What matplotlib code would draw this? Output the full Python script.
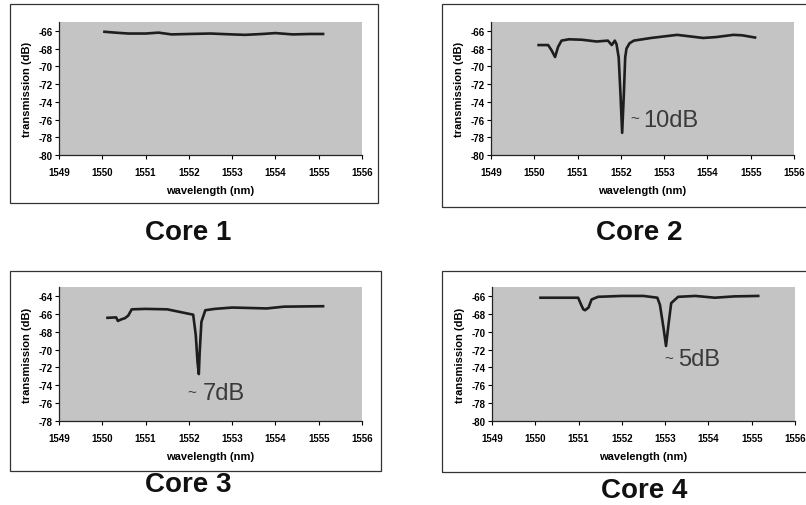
import matplotlib
matplotlib.use("Agg")
import matplotlib.pyplot as plt
from matplotlib.patches import Rectangle
import numpy as np

plt.rcParams['font.family'] = ['Liberation Sans', 'DejaVu Sans']

# Core 1 - flat transmission
wl_core1 = [1550.05, 1550.3, 1550.6, 1551.0, 1551.3, 1551.6, 1552.0, 1552.5,
            1553.0, 1553.3, 1553.7, 1554.0, 1554.4, 1554.8, 1555.1]
tr_core1 = [-66.1, -66.2, -66.3, -66.3, -66.2, -66.4, -66.35, -66.3,
            -66.4, -66.45, -66.35, -66.25, -66.4, -66.35, -66.35]

# Core 2 - ~10 dB dip near 1552 nm
wl_core2 = [1550.1, 1550.32, 1550.4, 1550.48, 1550.55, 1550.63, 1550.8, 1551.1,
            1551.44, 1551.7, 1551.79, 1551.86, 1551.9, 1551.95, 1551.99, 1552.03,
            1552.07, 1552.1, 1552.13, 1552.2, 1552.3, 1552.7, 1553.3, 1553.9,
            1554.2, 1554.6, 1554.8, 1555.1]
tr_core2 = [-67.6, -67.6, -68.2, -68.95, -67.8, -67.1, -66.95, -67.0,
            -67.2, -67.1, -67.6, -67.1, -67.5, -69.0, -73.0, -77.5,
            -73.0, -69.0, -68.0, -67.4, -67.1, -66.8, -66.45, -66.8,
            -66.7, -66.45, -66.5, -66.75]

# Core 3 - ~7 dB dip near 1552.2 nm
wl_core3 = [1550.12, 1550.32, 1550.36, 1550.45, 1550.52, 1550.6, 1550.68, 1551.0,
            1551.5, 1552.1, 1552.16, 1552.2, 1552.23, 1552.25, 1552.29, 1552.38,
            1552.6, 1553.0, 1553.8, 1554.2, 1555.1]
tr_core3 = [-66.45, -66.4, -66.8, -66.6, -66.5, -66.2, -65.5, -65.45,
            -65.5, -66.1, -68.4, -71.4, -72.75, -70.3, -66.9, -65.6,
            -65.45, -65.3, -65.4, -65.2, -65.15]

# Core 4 - ~5 dB dip near 1553 nm
wl_core4 = [1550.12, 1550.6, 1550.99, 1551.07, 1551.11, 1551.15, 1551.23, 1551.3,
            1551.45, 1552.0, 1552.5, 1552.82, 1552.88, 1552.96, 1553.02, 1553.08,
            1553.14, 1553.3, 1553.7, 1554.15, 1554.6, 1555.15]
tr_core4 = [-66.2, -66.2, -66.2, -67.1, -67.5, -67.6, -67.3, -66.4,
            -66.1, -66.0, -66.0, -66.2, -67.0, -69.5, -71.6, -69.1,
            -66.8, -66.1, -66.0, -66.2, -66.05, -66.0]

titles = ["Core 1", "Core 2", "Core 3", "Core 4"]
notes = [None, "10dB", "7dB", "5dB"]
note_x = [None, 1552.51, 1552.33, 1553.30]
tilde_x = [None, 1552.22, 1551.96, 1552.98]
note_y = [None, -76.0, -74.9, -73.1]
ylims = [(-80, -65), (-80, -65), (-78, -63), (-80, -65)]
yticks = [np.arange(-80, -65, 2), np.arange(-80, -65, 2),
          np.arange(-78, -63, 2), np.arange(-80, -65, 2)]
xticks = np.arange(1549, 1557, 1)

W, H = 806, 506
fig = plt.figure(figsize=(W / 100, H / 100), dpi=100)

def px(x0, y0, x1, y1):
    # pixel box (top-left origin) -> figure fraction rect
    return [x0 / W, 1 - y1 / H, (x1 - x0) / W, (y1 - y0) / H]

axes_px = [(59, 23, 362, 156), (491, 23, 794, 156),
           (59, 288, 362, 422), (492, 288, 795, 422)]
frames_px = [(10, 5, 378, 204), (442, 5, 812, 208),
             (10, 272, 381, 472), (442, 272, 812, 473)]
title_px = [(188, 233), (639, 233), (188, 485), (644, 491)]

data = [(wl_core1, tr_core1), (wl_core2, tr_core2),
        (wl_core3, tr_core3), (wl_core4, tr_core4)]

for i in range(4):
    fx0, fy0, fx1, fy1 = frames_px[i]
    r = px(fx0, fy0, fx1, fy1)
    fig.add_artist(Rectangle((r[0], r[1]), r[2], r[3], transform=fig.transFigure,
                             fill=False, edgecolor='#333333', lw=0.9))

    ax = fig.add_axes(px(*axes_px[i]))
    ax.set_facecolor('#c4c4c4')
    wl, tr = data[i]
    ax.plot(wl, tr, color='#1e1e1e', lw=1.9, solid_joinstyle='round')
    ax.set_xlim(1549, 1556)
    ax.set_ylim(*ylims[i])
    ax.set_xticks(xticks)
    ax.set_yticks(yticks[i])
    ax.set_xticklabels([str(t) for t in xticks], fontsize=7, fontweight='bold')
    ax.set_yticklabels([str(t) for t in yticks[i]], fontsize=7, fontweight='bold')
    ax.tick_params(axis='x', direction='out', length=3, width=0.8, pad=5.5)
    ax.tick_params(axis='y', direction='out', length=3, width=0.8, pad=1.5)
    for s in ['top', 'right']:
        ax.spines[s].set_visible(False)
    for s in ['left', 'bottom']:
        ax.spines[s].set_linewidth(0.9)
        ax.spines[s].set_color('#222222')
    ax.set_xlabel('wavelength (nm)', fontsize=8, fontweight='bold', labelpad=6)
    ax.set_ylabel('transmission (dB)', fontsize=8, fontweight='bold', labelpad=5)

    if notes[i]:
        ax.text(tilde_x[i], note_y[i] + 0.12, "~", fontsize=11, color='#3a3a3a',
                ha='left', va='center')
        ax.text(note_x[i], note_y[i], notes[i], fontsize=17,
                color='#3a3a3a', ha='left', va='center')

    tx, ty = title_px[i]
    fig.text(tx / W, 1 - ty / H, titles[i], fontsize=20, fontweight='bold',
             ha='center', va='center', color='#111111')

fig.savefig('out.png', dpi=100)
